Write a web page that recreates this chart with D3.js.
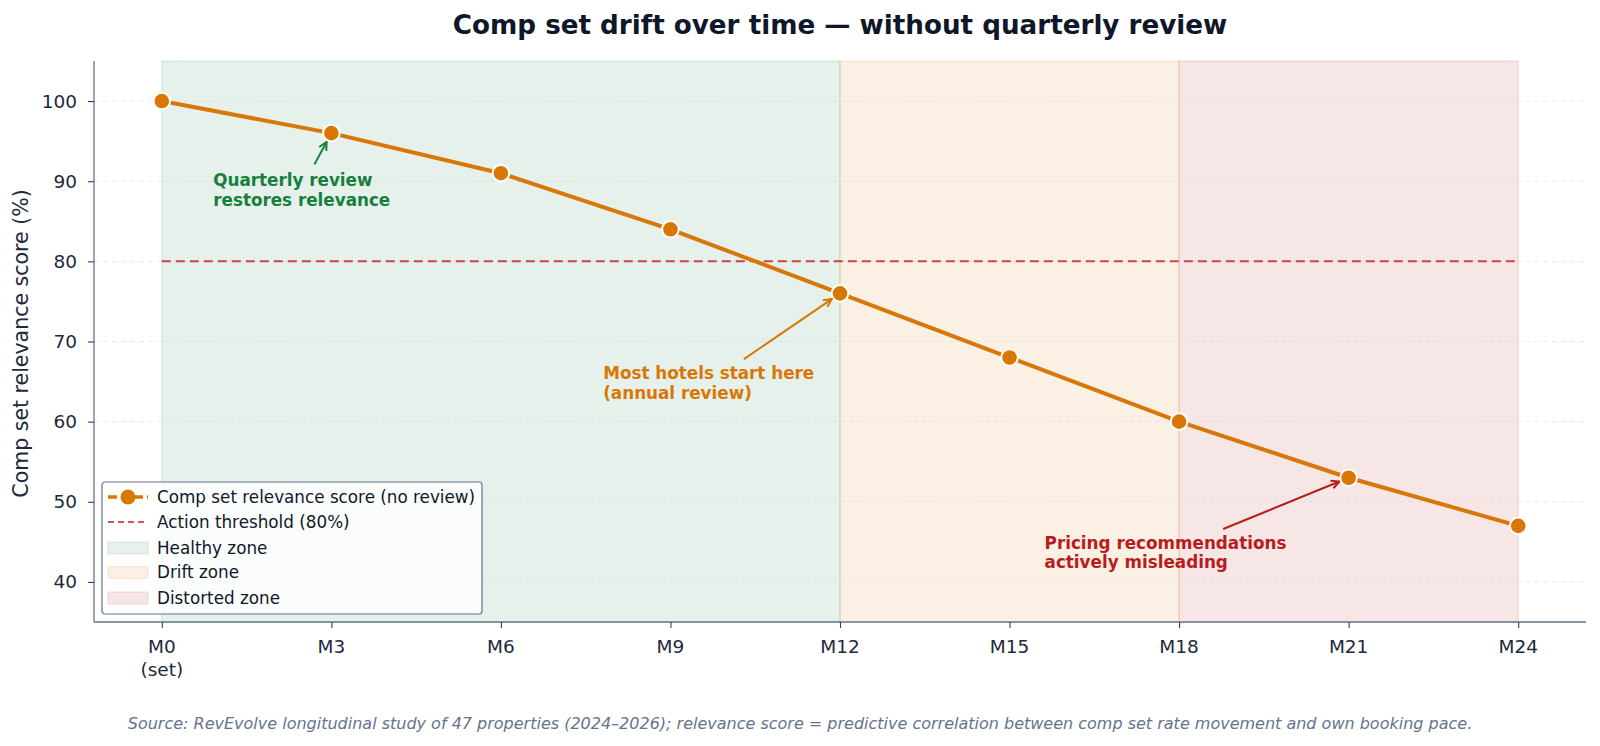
<!DOCTYPE html>
<html>
<head>
<meta charset="utf-8">
<script src="https://cdn.jsdelivr.net/npm/d3@7"></script>
<style>
  html, body { margin: 0; padding: 0; background: #fff; }
  svg { display: block; font-family: "DejaVu Sans", sans-serif; }
</style>
</head>
<body>
<svg id="chart" width="1600" height="746"></svg>
<script>
// Chart data
const months = [0, 3, 6, 9, 12, 15, 18, 21, 24];
const monthLabels = ['M0\n(set)', 'M3', 'M6', 'M9', 'M12', 'M15', 'M18', 'M21', 'M24'];
const relevance = [100, 96, 91, 84, 76, 68, 60, 53, 47];
const threshold = 80;
const yTicks = [40, 50, 60, 70, 80, 90, 100];

// zones: [start month, end month]
const zoneNames = ['Healthy zone', 'Drift zone', 'Distorted zone'];
const zoneStart = [0, 12, 18];
const zoneEnd = [12, 18, 24];
const zoneColors = ['#15803d', '#d97706', '#b91c1c'];

// annotations: target point index, text anchor (month, value), arrow tail (month, value)
const noteLines = [
  ['Quarterly review', 'restores relevance'],
  ['Most hotels start here', '(annual review)'],
  ['Pricing recommendations', 'actively misleading']
];
const noteTarget = [1, 4, 7];
const noteText = [[0.91, 90.1], [7.81, 66.0], [15.62, 44.9]];
const noteTail = [[2.70, 92.1], [10.30, 67.8], [18.78, 46.6]];
const noteColors = ['#15803d', '#d97706', '#b91c1c'];

const svg = d3.select('#chart');
const margin = { left: 94, right: 14, top: 61, bottom: 124 };
const W = 1600, H = 746;

const x = d3.scaleLinear().domain([-1.2, 25.2]).range([margin.left, W - margin.right]);
const y = d3.scaleLinear().domain([35, 105]).range([H - margin.bottom, margin.top]);

// zone spans
svg.append('g').selectAll('rect')
  .data(zoneNames)
  .enter()
  .append('rect')
  .attr('x', (d, i) => x(zoneStart[i]))
  .attr('width', (d, i) => x(zoneEnd[i]) - x(zoneStart[i]))
  .attr('y', y(105))
  .attr('height', y(35) - y(105))
  .attr('fill', (d, i) => zoneColors[i])
  .attr('fill-opacity', 0.11)
  .attr('stroke', (d, i) => zoneColors[i])
  .attr('stroke-opacity', 0.14)
  .attr('stroke-width', 1.2);

// grid
svg.append('g').selectAll('line')
  .data(yTicks)
  .enter()
  .append('line')
  .attr('x1', margin.left)
  .attr('x2', W - margin.right)
  .attr('y1', d => y(d))
  .attr('y2', d => y(d))
  .attr('stroke', '#cbd5e1')
  .attr('stroke-opacity', 0.6)
  .attr('stroke-dasharray', '5,4')
  .attr('stroke-width', 0.8);

// threshold line
svg.append('line')
  .attr('x1', x(0)).attr('x2', x(24))
  .attr('y1', y(threshold)).attr('y2', y(threshold))
  .attr('stroke', '#cc4444')
  .attr('stroke-width', 2)
  .attr('stroke-dasharray', '9,5');

// main line
const line = d3.line().x((d, i) => x(months[i])).y(d => y(d));
svg.append('path')
  .datum(relevance)
  .attr('d', line)
  .attr('fill', 'none')
  .attr('stroke', '#d97706')
  .attr('stroke-width', 4)
  .attr('stroke-linejoin', 'round');

svg.append('g').selectAll('circle')
  .data(relevance)
  .enter()
  .append('circle')
  .attr('cx', (d, i) => x(months[i]))
  .attr('cy', d => y(d))
  .attr('r', 8.3)
  .attr('fill', '#d97706')
  .attr('stroke', '#fff')
  .attr('stroke-width', 2);

// axes
const xAxis = d3.axisBottom(x).tickValues(months).tickSize(6).tickFormat('');
const gx = svg.append('g').attr('transform', `translate(0,${H - margin.bottom})`).call(xAxis);
const yAxis = d3.axisLeft(y).tickValues(yTicks).tickSize(6).tickFormat('');
const gy = svg.append('g').attr('transform', `translate(${margin.left},0)`).call(yAxis);
[gx, gy].forEach(g => {
  g.select('.domain').attr('stroke', '#64748b').attr('stroke-width', 1.3);
  g.selectAll('.tick line').attr('stroke', '#334155').attr('stroke-width', 1.1);
});
gx.select('.domain').attr('d', `M${margin.left},0H${W - margin.right}`);
gy.select('.domain').attr('d', `M0,${H - margin.bottom}V${margin.top}`);

// x tick labels
svg.append('g').selectAll('text')
  .data(monthLabels)
  .enter()
  .append('text')
  .attr('x', (d, i) => x(months[i]))
  .attr('y', H - margin.bottom + 31)
  .attr('text-anchor', 'middle')
  .attr('font-size', 18.5)
  .attr('fill', '#1e293b')
  .each(function(d) {
    d.split('\n').forEach((t, k) => {
      d3.select(this).append('tspan').attr('x', this.getAttribute('x')).attr('dy', k ? 22.5 : 0).text(t);
    });
  });

// y tick labels
svg.append('g').selectAll('text')
  .data(yTicks)
  .enter()
  .append('text')
  .attr('x', margin.left - 17)
  .attr('y', d => y(d))
  .attr('dy', '0.35em')
  .attr('text-anchor', 'end')
  .attr('font-size', 18.5)
  .attr('fill', '#1e293b')
  .text(d => d);

// y label
svg.append('text')
  .attr('transform', `translate(28,${(y(35) + y(105)) / 2 + 2}) rotate(-90)`)
  .attr('text-anchor', 'middle')
  .attr('font-size', 20.5)
  .attr('fill', '#1e293b')
  .text('Comp set relevance score (%)');

// title
svg.append('text')
  .attr('x', (margin.left + W - margin.right) / 2)
  .attr('y', 34)
  .attr('text-anchor', 'middle')
  .attr('font-size', 26.2)
  .attr('font-weight', 'bold')
  .attr('fill', '#0f172a')
  .text('Comp set drift over time — without quarterly review');

// annotations
const defs = svg.append('defs');
noteColors.forEach((c, i) => {
  defs.append('marker')
    .attr('id', 'arr' + i)
    .attr('viewBox', '0 0 10 10')
    .attr('refX', 9).attr('refY', 5)
    .attr('markerWidth', 10).attr('markerHeight', 10)
    .attr('markerUnits', 'userSpaceOnUse')
    .attr('orient', 'auto')
    .append('path')
    .attr('d', 'M1,1L9,5L1,9')
    .attr('fill', 'none')
    .attr('stroke', c)
    .attr('stroke-width', 2);
});

noteLines.forEach((lines, i) => {
  const tx = x(noteTail[i][0]), ty = y(noteTail[i][1]);
  const px = x(months[noteTarget[i]]), py = y(relevance[noteTarget[i]]);
  const len = Math.hypot(px - tx, py - ty);
  const ex = px - (px - tx) / len * 10, ey = py - (py - ty) / len * 10;
  svg.append('line')
    .attr('x1', tx).attr('y1', ty).attr('x2', ex).attr('y2', ey)
    .attr('stroke', noteColors[i])
    .attr('stroke-width', 2)
    .attr('marker-end', `url(#arr${i})`);
  const t = svg.append('text')
    .attr('x', x(noteText[i][0]))
    .attr('y', y(noteText[i][1]))
    .attr('font-size', 16.8)
    .attr('font-weight', 'bold')
    .attr('fill', noteColors[i]);
  lines.forEach((l, k) => t.append('tspan').attr('x', x(noteText[i][0])).attr('dy', k ? 19.5 : '0.35em').text(l));
});

// legend
const lg = svg.append('g').attr('transform', 'translate(102,482)');
lg.append('rect')
  .attr('width', 380).attr('height', 132)
  .attr('rx', 3)
  .attr('fill', '#fff').attr('fill-opacity', 0.85)
  .attr('stroke', '#64748b').attr('stroke-width', 1.2);
const rowY = [15, 40, 66, 90.5, 116];
const legendLabels = ['Comp set relevance score (no review)', 'Action threshold (80%)'].concat(zoneNames);
legendLabels.forEach((label, i) => {
  const ry = rowY[i];
  if (i === 0) {
    lg.append('line').attr('x1', 6).attr('x2', 46).attr('y1', ry).attr('y2', ry)
      .attr('stroke', '#d97706').attr('stroke-width', 3.6).attr('stroke-dasharray', '9,4');
    lg.append('circle').attr('cx', 26).attr('cy', ry).attr('r', 7.5).attr('fill', '#d97706');
  } else if (i === 1) {
    lg.append('line').attr('x1', 6).attr('x2', 46).attr('y1', ry).attr('y2', ry)
      .attr('stroke', '#cc4444').attr('stroke-width', 2).attr('stroke-dasharray', '6,4')
      .attr('stroke-opacity', 0.9);
  } else {
    const c = zoneColors[i - 2];
    lg.append('rect').attr('x', 6).attr('y', ry - 6).attr('width', 40).attr('height', 12)
      .attr('fill', c).attr('fill-opacity', 0.11)
      .attr('stroke', c).attr('stroke-opacity', 0.14);
  }
  lg.append('text').attr('x', 55).attr('y', ry).attr('dy', '0.35em')
    .attr('font-size', 16.8).attr('fill', '#0f172a').text(label);
});

// source
svg.append('text')
  .attr('x', 800)
  .attr('y', 729)
  .attr('text-anchor', 'middle')
  .attr('font-size', 16)
  .attr('font-style', 'italic')
  .attr('fill', '#64748b')
  .text('Source: RevEvolve longitudinal study of 47 properties (2024–2026); relevance score = predictive correlation between comp set rate movement and own booking pace.');
</script>
</body>
</html>
